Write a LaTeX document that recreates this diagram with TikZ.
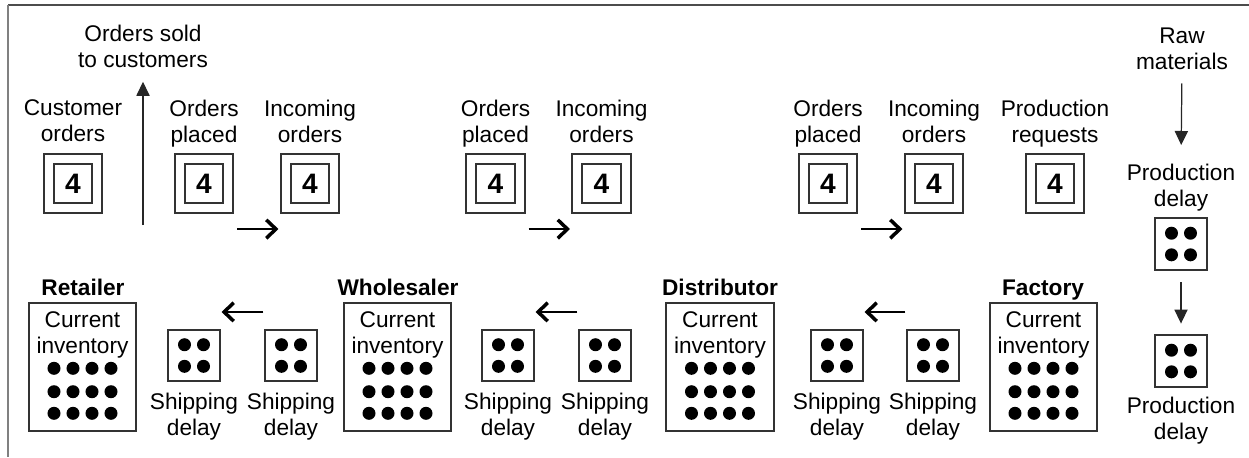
\documentclass[tikz,border=0pt]{standalone}
\usepackage{fontspec}
\setmainfont{Liberation Sans}
\usetikzlibrary{arrows.meta}

\tikzset{
  txt/.style={align=center, inner sep=0pt, anchor=north,
    font=\fontsize{12.9}{14.7}\selectfont},
  role/.style={inner sep=0pt, anchor=base,
    font=\fontsize{12.9}{14.7}\selectfont\bfseries},
  ordbox/.style={draw=black!80, line width=0.9pt, double, double distance=4.8pt,
    minimum size=0.97cm, inner sep=0pt, font=\fontsize{16}{16}\selectfont\bfseries},
  invbox/.style={draw=black!80, line width=0.9pt, minimum width=2.15cm,
    minimum height=2.57cm, inner sep=0pt},
  delaybox/.style={draw=black!80, line width=0.9pt, minimum size=1.03cm, inner sep=0pt},
  flow/.style={line width=1.2pt, -{Straight Barb[length=5.5pt,width=10.5pt,line width=2pt]}},
  feed/.style={line width=0.7pt, black!85, -{Triangle[length=8pt,width=7.5pt]}},
}

\begin{document}
\begin{tikzpicture}[x=0.02cm, y=-0.02cm]
    \useasboundingbox (0,0) rectangle (1249,457);
    \draw[black!70, line width=1.4pt] (8,5) -- (1249,5);
    \draw[black!50, line width=1.6pt] (8,5) -- (8,457);

    % orders
    \node[txt] (COl) at (73,99.4) {Customer\\orders};
    \node[ordbox] (CO) at (73,183.5) {4};
    \node[txt] (OP1l) at (204,99.4) {Orders\\placed};
    \node[ordbox] (OP1) at (204,183.5) {4};
    \node[txt] (IO1l) at (310,99.4) {Incoming\\orders};
    \node[ordbox] (IO1) at (310,183.5) {4};
    \node[txt] (OP2l) at (495.5,99.4) {Orders\\placed};
    \node[ordbox] (OP2) at (495.5,183.5) {4};
    \node[txt] (IO2l) at (601.5,99.4) {Incoming\\orders};
    \node[ordbox] (IO2) at (601.5,183.5) {4};
    \node[txt] (OP3l) at (828,99.4) {Orders\\placed};
    \node[ordbox] (OP3) at (828,183.5) {4};
    \node[txt] (IO3l) at (934,99.4) {Incoming\\orders};
    \node[ordbox] (IO3) at (934,183.5) {4};
    \node[txt] (PRl) at (1055,99.4) {Production\\requests};
    \node[ordbox] (PR) at (1055,183.5) {4};

    \node[txt] (SOLD) at (143,24.5) {Orders sold\\to customers};
    \coordinate (soldfoot) at (143,225);
    \node[txt] (RAW) at (1182,28) {Raw\\materials};

    % inventories
    \node[role] (RIl) at (83,295) {Retailer};
    \node[invbox] (RI) at (82.5,367) {};
    \node[txt] (RIt) at (82.5,311.5) {Current\\inventory};
    \node[role] (WIl) at (398,295) {Wholesaler};
    \node[invbox] (WI) at (397.5,367) {};
    \node[txt] (WIt) at (397.5,311.5) {Current\\inventory};
    \node[role] (DIl) at (720,295) {Distributor};
    \node[invbox] (DI) at (720,367) {};
    \node[txt] (DIt) at (720,311.5) {Current\\inventory};
    \node[role] (FIl) at (1043,295) {Factory};
    \node[invbox] (FI) at (1043.5,367) {};
    \node[txt] (FIt) at (1043.5,311.5) {Current\\inventory};

    % delays
    \node[delaybox] (SD1) at (194,355.5) {};
    \node[txt] (SD1l) at (194,392.4) {Shipping\\delay};
    \node[delaybox] (SD2) at (291,355.5) {};
    \node[txt] (SD2l) at (291,392.4) {Shipping\\delay};
    \node[delaybox] (SD3) at (508,355.5) {};
    \node[txt] (SD3l) at (508,392.4) {Shipping\\delay};
    \node[delaybox] (SD4) at (605,355.5) {};
    \node[txt] (SD4l) at (605,392.4) {Shipping\\delay};
    \node[delaybox] (SD5) at (837,355.5) {};
    \node[txt] (SD5l) at (837,392.4) {Shipping\\delay};
    \node[delaybox] (SD6) at (933,355.5) {};
    \node[txt] (SD6l) at (933,392.4) {Shipping\\delay};
    \node[txt] (PD1l) at (1181,163.5) {Production\\delay};
    \node[delaybox] (PD1) at (1181,244) {};
    \node[delaybox] (PD2) at (1181,361) {};
    \node[txt] (PD2l) at (1181,397) {Production\\delay};

    \foreach \nd in {RI,WI,DI,FI}
      \foreach \dx in {-28.5,-9.5,9.5,28.5}
        \foreach \dy in {1.3,24.7,46.3}
          \fill ([shift={(\dx,\dy)}]\nd.center) circle[radius=3.7pt];
    \foreach \nd in {SD1,SD2,SD3,SD4,SD5,SD6,PD1,PD2}
      \foreach \dx in {-9.5,9.5}
        \foreach \dy in {-10.8,10.8}
          \fill ([shift={(\dx,\dy)}]\nd.center) circle[radius=3.7pt];

    % order flow, goods flow
    \draw[flow] ([shift={(8,20.5)}]OP1.south east) -- ([shift={(-6.5,20.5)}]IO1.south west);
    \draw[flow] ([shift={(8,20.5)}]OP2.south east) -- ([shift={(-6.5,20.5)}]IO2.south west);
    \draw[flow] ([shift={(8,20.5)}]OP3.south east) -- ([shift={(-6.5,20.5)}]IO3.south west);
    \draw[flow] ([shift={(-1,-17)}]SD2.north west) -- ([shift={(1,-17)}]SD1.north east);
    \draw[flow] ([shift={(-1,-17)}]SD4.north west) -- ([shift={(1,-17)}]SD3.north east);
    \draw[flow] ([shift={(-1,-17)}]SD6.north west) -- ([shift={(1,-17)}]SD5.north east);

    \draw[feed, shorten >=8pt] (soldfoot) -- (SOLD.south);
    \draw[feed, shorten <=7.4pt, shorten >=10.5pt] (RAW.south) -- (PD1l.north);
    \draw[feed, shorten <=6.8pt, shorten >=6.2pt] (PD1.south) -- (PD2.north);
\end{tikzpicture}
\end{document}
